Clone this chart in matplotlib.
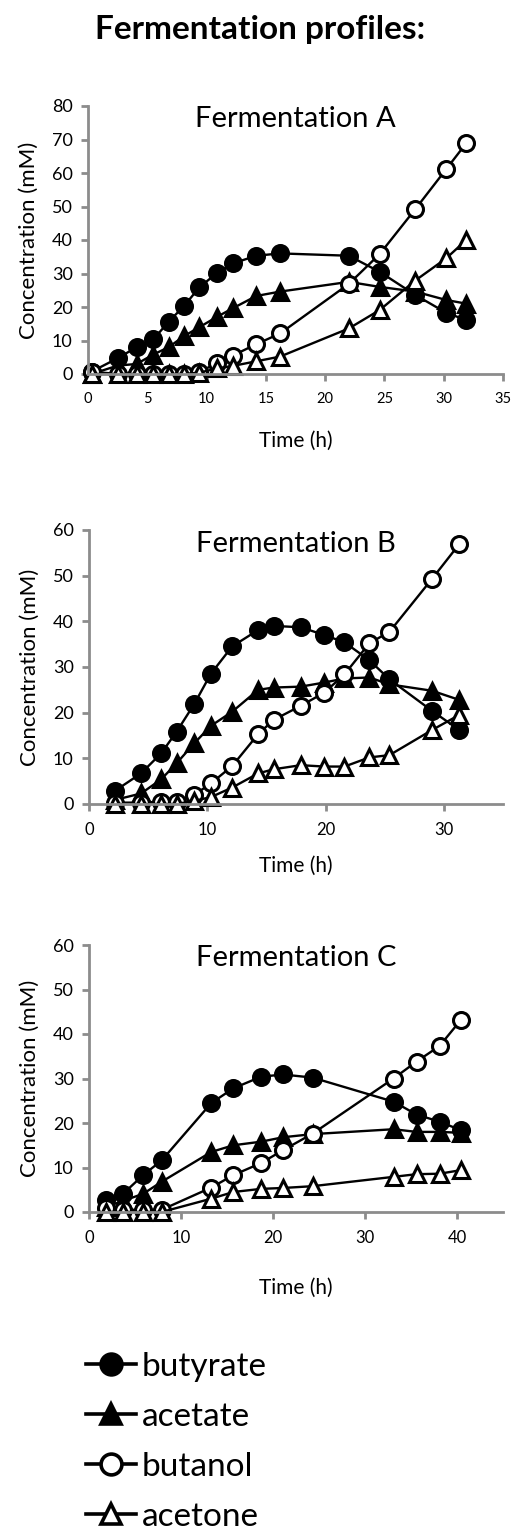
import numpy as np
import matplotlib
matplotlib.use("Agg")
import matplotlib.pyplot as plt
from matplotlib.lines import Line2D

plt.rcParams['font.family'] = ['Lato', 'DejaVu Sans']

# Fermentation A
t_a = [0.3, 2.5, 4.1, 5.5, 6.8, 8.1, 9.4, 10.9, 12.2, 14.2, 16.2, 22.0, 24.6, 27.6, 30.2, 31.9]
butyrate_a = [0.7, 4.7, 8.0, 10.3, 15.6, 20.3, 25.9, 30.2, 33.0, 35.3, 36.0, 35.3, 30.5, 23.6, 18.3, 16.1]
acetate_a = [0.0, 2.5, 3.0, 5.8, 8.0, 11.3, 14.0, 17.1, 19.6, 23.3, 24.6, 27.5, 26.0, 24.6, 22.1, 21.0]
butanol_a = [0.7, 0.0, 0.0, 0.0, 0.0, 0.0, 0.7, 3.2, 5.5, 8.9, 12.1, 26.9, 35.8, 49.2, 61.1, 68.9]
acetone_a = [0.0, 0.0, 0.0, 0.0, 0.0, 0.0, 0.4, 1.7, 2.4, 3.8, 5.2, 13.6, 19.1, 27.9, 34.5, 40.0]

# Fermentation B
t_b = [2.2, 4.4, 6.1, 7.4, 8.9, 10.3, 12.1, 14.3, 15.6, 17.9, 19.9, 21.6, 23.7, 25.4, 29.0, 31.3]
butyrate_b = [2.9, 6.7, 11.1, 15.8, 21.9, 28.5, 34.5, 38.1, 39.0, 38.7, 37.0, 35.4, 31.5, 27.3, 20.4, 16.2]
acetate_b = [0.9, 2.3, 5.4, 8.9, 13.3, 17.1, 20.2, 25.0, 25.5, 25.7, 26.6, 27.5, 27.7, 26.2, 24.8, 22.8]
butanol_b = [0.3, 0.3, 0.5, 0.5, 2.0, 4.5, 8.3, 15.3, 18.4, 21.5, 24.4, 28.4, 35.2, 37.7, 49.3, 56.9]
acetone_b = [0.0, 0.0, 0.0, 0.0, 0.7, 1.5, 3.6, 6.7, 7.6, 8.5, 8.2, 8.2, 10.2, 10.7, 16.2, 19.5]

# Fermentation C
t_c = [1.8, 3.7, 5.9, 7.9, 13.3, 15.7, 18.7, 21.1, 24.3, 33.1, 35.6, 38.1, 40.4]
butyrate_c = [2.6, 4.1, 8.3, 11.6, 24.5, 27.8, 30.4, 30.9, 30.2, 24.8, 21.9, 20.3, 18.4]
acetate_c = [1.1, 2.5, 4.1, 6.8, 13.5, 15.0, 15.8, 16.8, 17.5, 18.6, 18.0, 18.0, 17.8]
butanol_c = [1.0, 0.5, 0.5, 0.5, 5.5, 8.3, 11.0, 13.9, 17.6, 30.0, 33.8, 37.3, 43.1]
acetone_c = [0.0, 0.0, 0.0, 0.0, 3.0, 4.5, 5.2, 5.4, 5.8, 7.9, 8.5, 8.6, 9.4]

panels = [
    ("Fermentation A", t_a, [butyrate_a, acetate_a, butanol_a, acetone_a], 35, 5, 80),
    ("Fermentation B", t_b, [butyrate_b, acetate_b, butanol_b, acetone_b], 35, 10, 60),
    ("Fermentation C", t_c, [butyrate_c, acetate_c, butanol_c, acetone_c], 45, 10, 60),
]
names = ["butyrate", "acetate", "butanol", "acetone"]
markers = ["o", "^", "o", "^"]
faces = ["black", "black", "white", "white"]

W, H = 513, 1534
fig = plt.figure(figsize=(W / 100, H / 100), dpi=100)

fig.text(95 / W, 1 - 30 / H, "Fermentation profiles:", fontsize=24, fontweight="bold",
         va="center", ha="left")

# axes boxes in pixels: left, top(max y), bottom(0)
boxes = [(88, 106, 374), (89, 530, 804), (89, 945, 1212)]
xlabel_pads = [18, 13, 23]
spine_c = "#8c8c8c"

for (title, t, series, xmax, xstep, ymax), (lft, top, bot), lp in zip(panels, boxes, xlabel_pads):
    ax = fig.add_axes([lft / W, 1 - bot / H, (503 - lft) / W, (bot - top) / H])
    for vals, m, fc in zip(series, markers, faces):
        ax.plot(t, vals, color="black", lw=1.7, marker=m, markersize=11.5 if m == "o" else 12,
                markerfacecolor=fc, markeredgecolor="black", markeredgewidth=2.2,
                clip_on=False)
    ax.set_xlim(0, xmax)
    ax.set_ylim(0, ymax)
    ax.set_xticks(np.arange(0, xmax + 0.1, xstep))
    ax.set_yticks(np.arange(0, ymax + 0.1, 10))
    for s in ["top", "right"]:
        ax.spines[s].set_visible(False)
    for s in ["left", "bottom"]:
        ax.spines[s].set_color(spine_c)
        ax.spines[s].set_linewidth(2)
    ax.tick_params(axis="both", direction="out", length=5, width=2, color=spine_c)
    ax.tick_params(axis="y", labelsize=13, pad=6)
    ax.tick_params(axis="x", labelsize=10.5 if xstep == 5 else 12, pad=8)
    ax.set_ylabel("Concentration (mM)", fontsize=16, labelpad=9)
    ax.set_xlabel("Time (h)", fontsize=15, labelpad=lp)
    ax.set_title(title, fontsize=21, y=0.92, pad=0)

handles = [Line2D([], [], color="black", lw=2.6, marker=m, markersize=15,
                  markerfacecolor=fc, markeredgecolor="black", markeredgewidth=2.6)
           for m, fc in zip(markers, faces)]
fig.legend(handles, names, loc="upper left", bbox_to_anchor=(86 / W, 1 - 1352 / H),
           frameon=False, fontsize=24, handlelength=1.5, handletextpad=0.18,
           labelspacing=0.6, borderpad=0, borderaxespad=0)

fig.savefig("out.png", dpi=100)
